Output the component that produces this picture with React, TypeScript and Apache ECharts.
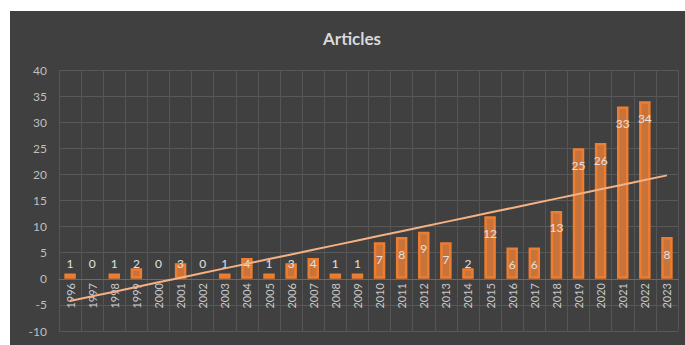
import React, { useEffect, useRef } from "react";
import * as echarts from "echarts";

const years = [
  "1996", "1997", "1998", "1999", "2000", "2001", "2002", "2003", "2004", "2005",
  "2006", "2007", "2008", "2009", "2010", "2011", "2012", "2013", "2014", "2015",
  "2016", "2017", "2018", "2019", "2020", "2021", "2022", "2023",
];
const articles = [1, 0, 1, 2, 0, 3, 0, 1, 4, 1, 3, 4, 1, 1, 7, 8, 9, 7, 2, 12, 6, 6, 13, 25, 26, 33, 34, 8];
const yMin = -10;
const yMax = 40;
const yStep = 5;

function linearTrend(vals: number[]): number[] {
  const n = vals.length;
  const xs = vals.map((_, i) => i + 1);
  const mx = xs.reduce((a, b) => a + b, 0) / n;
  const my = vals.reduce((a, b) => a + b, 0) / n;
  let sxy = 0;
  let sxx = 0;
  for (let i = 0; i < n; i++) {
    sxy += (xs[i] - mx) * (vals[i] - my);
    sxx += (xs[i] - mx) * (xs[i] - mx);
  }
  const slope = sxy / sxx;
  const intercept = my - slope * mx;
  return xs.map((x) => +(intercept + slope * x).toFixed(3));
}

export default function App() {
  const ref = useRef<HTMLDivElement>(null);
  useEffect(() => {
    if (!ref.current) return;
    const chart = echarts.init(ref.current, null, { renderer: "svg" });
    const font = "Lato, 'Open Sans', sans-serif";
    const gridTop = 59;
    const gridBottom = 14;
    const plotH = 334 - gridTop - gridBottom;
    const zeroOffset = -Math.round(((0 - yMin) / (yMax - yMin)) * plotH);
    const barData = articles.map((v) => ({
      value: v,
      itemStyle: v === 0 ? { borderWidth: 0, color: "rgba(0,0,0,0)" } : {},
      label:
        v < 6
          ? { position: "insideBottom", distance: 9 }
          : { position: "insideTop", distance: 11 },
    }));
    chart.setOption({
      animation: false,
      backgroundColor: "#404040",
      title: {
        text: "Articles",
        left: 308,
        top: 14,
        textStyle: { color: "#d9d9d9", fontSize: 17, fontWeight: "bold", fontFamily: font },
      },
      grid: { left: 49, right: 7, top: gridTop, bottom: gridBottom, containLabel: false },
      xAxis: {
        type: "category",
        data: years,
        offset: zeroOffset,
        axisLine: { onZero: false, lineStyle: { color: "#6a6a6a", width: 1 } },
        axisTick: { show: false },
        splitLine: { show: true, interval: 0, lineStyle: { color: "#555555", width: 1 } },
        axisLabel: {
          interval: 0,
          rotate: 90,
          color: "#c8c8c8",
          fontSize: 11,
          fontFamily: font,
          margin: 4,
        },
      },
      yAxis: {
        type: "value",
        min: yMin,
        max: yMax,
        interval: yStep,
        axisLine: { show: false },
        axisTick: { show: false },
        splitLine: { lineStyle: { color: "#595959", width: 1 } },
        axisLabel: { color: "#bfbfbf", fontSize: 12, fontFamily: font, margin: 12 },
      },
      series: [
        {
          type: "bar",
          data: barData,
          barWidth: "52%",
          z: 2,
          itemStyle: {
            color: "#c8733a",
            borderColor: "#ed7d31",
            borderWidth: 2.5,
          },
          label: {
            show: true,
            color: "#e0e0e0",
            fontSize: 12,
            fontFamily: font,
          },
        },
        {
          type: "line",
          data: linearTrend(articles),
          symbol: "none",
          z: 3,
          lineStyle: { color: "#f4b183", width: 2 },
          itemStyle: { color: "#f4b183" },
        },
      ],
    });
    return () => chart.dispose();
  }, []);
  return (
    <div
      ref={ref}
      style={{ position: "absolute", left: 10, top: 11, width: 675, height: 334 }}
    />
  );
}
